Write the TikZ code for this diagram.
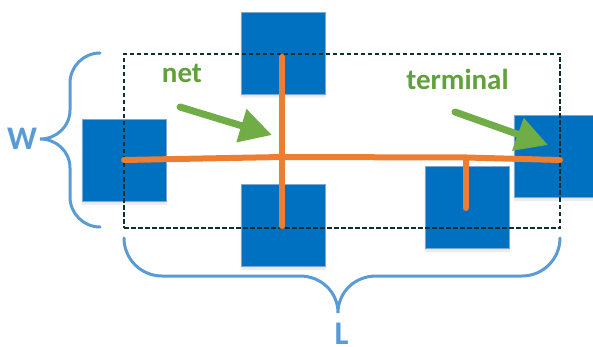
\documentclass[tikz,border=0pt]{standalone}
\usepackage{fontspec}
\setmainfont{Carlito}
\usetikzlibrary{arrows.meta,shadows.blur}

\definecolor{padblue}{HTML}{0070C0}
\definecolor{padedge}{HTML}{7FA7CF}
\definecolor{wireorange}{HTML}{ED7D31}
\definecolor{pointgreen}{HTML}{70AD47}
\definecolor{labelgreen}{HTML}{62A03C}
\definecolor{bracecol}{HTML}{5B9BD5}
\definecolor{boxline}{HTML}{0C3030}

\begin{document}
\begin{tikzpicture}[x=1pt,y=-1pt,
  pad/.style={fill=padblue, draw=padedge, line width=0.6pt,
    minimum width=84pt, minimum height=82pt, inner sep=0pt,
    blur shadow={shadow xshift=0pt, shadow yshift=-3pt,
      shadow opacity=12, shadow blur steps=6}},
  wire/.style={draw=wireorange, line width=6pt, line cap=round},
  pointer/.style={draw=pointgreen, fill=pointgreen, line width=7pt,
    line cap=round, -{Triangle[length=32pt,width=33pt]}},
  lbl/.style={text=labelgreen, font=\fontsize{29}{30}\selectfont\bfseries,
    inner sep=0pt, anchor=base},
  dimlbl/.style={text=bracecol, font=\fontsize{33}{34}\selectfont\bfseries,
    inner sep=0pt, anchor=base},
  brace/.style={draw=bracecol, line width=3pt, line cap=round},
  bbox/.style={draw=boxline, line width=2.3pt, dash pattern=on 4.5pt off 2.5pt}]

\useasboundingbox (0,0) rectangle (593,347);

% pins
\node[pad] (padW) at (124,160) {};
\node[pad] (padN) at (283,53) {};
\node[pad] (padS) at (283,225) {};
\node[pad] (padT) at (467,207) {};
\node[pad] (padE) at (556,156) {};

% bounding box of the net
\node[bbox, minimum width=436pt, minimum height=174pt, inner sep=0pt] (bb) at (342,141) {};

% net routing
\coordinate (j1) at (282,157);
\coordinate (j2) at (466,157.5);
\coordinate (wR) at (560,160);
\coordinate (vTop) at (282,57);
\coordinate (vBot) at (282,226);
\coordinate (stub) at (466,208);
\draw[wire] (padW.center) -- (j1) -- (j2) -- (wR);
\draw[wire] (vTop) -- (vBot);
\draw[wire] (j2) -- (stub);

% labels and pointers
\node[lbl] (netLbl) at (182,83) {net};
\node[lbl] (termLbl) at (457.5,90) {terminal};
\coordinate (netTail) at (180,107);
\coordinate (netHead) at (272,135);
\coordinate (termTail) at (455,112);
\coordinate (termHead) at (548,145);
\draw[pointer] (netTail) -- (netHead);
\draw[pointer] (termTail) -- (termHead);

% dimension braces
\draw[brace] (100,53) .. controls (83.5,53) and (70,66.5) .. (70,83) -- (70,110)
  .. controls (70,126.5) and (56.5,139) .. (40,139)
  .. controls (56.5,139) and (70,151.5) .. (70,168) -- (70,197)
  .. controls (70,213.5) and (83.5,227) .. (100,227);
\draw[brace] (124,238) .. controls (124,259) and (141,276) .. (162,276) -- (300,276)
  .. controls (321,276) and (338,292) .. (338,313)
  .. controls (338,292) and (355,276) .. (376,276) -- (522,276)
  .. controls (543,276) and (560,259) .. (560,238);
\node[dimlbl] (wLbl) at (22,150) {W};
\node[dimlbl] (lLbl) at (341.5,344) {L};
\end{tikzpicture}
\end{document}
